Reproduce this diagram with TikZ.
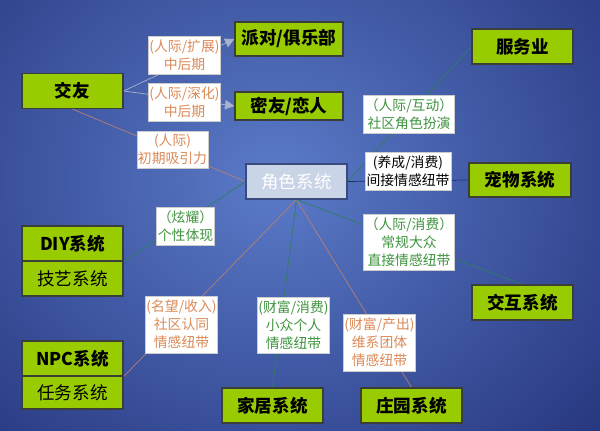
\documentclass[tikz,border=0pt]{standalone}
\usepackage{fontspec}
\setmainfont{Noto Sans CJK SC}
\usetikzlibrary{arrows.meta,backgrounds}

\definecolor{bgin}{HTML}{5B7BC9}
\definecolor{bgout}{HTML}{27377F}
\definecolor{boxgreen}{HTML}{99CC00}
\definecolor{boxline}{HTML}{3A3F3A}
\definecolor{hubfill}{HTML}{C9D4E7}
\definecolor{hubline}{HTML}{3A4A80}
\definecolor{txtorange}{HTML}{DB8A58}
\definecolor{txtgreen}{HTML}{3F943F}
\definecolor{lngreen}{HTML}{2F7E62}
\definecolor{lnorange}{HTML}{B58072}
\definecolor{lnnavy}{HTML}{1E2C6A}
\definecolor{lngray}{HTML}{A9B2CC}

\begin{document}
\begin{tikzpicture}[
                x=0.03cm, y=-0.03cm,
                box/.style={draw=boxline, fill=boxgreen, line width=1pt, inner sep=0pt,
                    minimum width=3.03cm, minimum height=1.05cm,
                    font=\fontsize{15}{18}\selectfont\bfseries},
                hub/.style={draw=hubline, fill=hubfill, text=white, line width=1pt, inner sep=0pt,
                    minimum width=3.03cm, minimum height=1.05cm, font=\fontsize{15}{18}\selectfont},
                lbl/.style={draw=gray!40, fill=white, inner sep=1pt, align=center,
                    minimum width=2.13cm, minimum height=1.14cm, font=\fontsize{11.8}{15.5}\selectfont},
                orng/.style={lbl, text=txtorange},
                grn/.style={lbl, text=txtgreen},
                link/.style={line width=0.6pt},
                arr/.style={link, lngray, -{Triangle[width=8pt,length=8pt]}}
            ]
            % Page area
            \useasboundingbox (0,0) rectangle (600,431);

            % Central system
            \node[hub] (juese) at (296.5,181.5) {角色系统};

            % Boxes round the center
            \node[box] (jiaoyou) at (72.5,91) {交友};
            \node[box, minimum width=3.24cm, minimum height=1.02cm] (paidui) at (289,39) {派对/俱乐部};
            \node[box, minimum width=3.24cm, minimum height=0.84cm] (miyou) at (289,106) {密友/恋人};
            \node[box] (fuwu) at (522.5,46.5) {服务业};
            \node[box, minimum width=3.06cm, minimum height=1.02cm] (chongwu) at (520,180) {宠物系统};
            \node[box] (jiaohu) at (522.5,302.5) {交互系统};
            \node[box] (jiaju) at (272.5,405.5) {家居系统};
            \node[box] (zhuangyuan) at (411.5,405.5) {庄园系统};

            % Stacked boxes on the left
            \node[box] (diy) at (72.5,243.5) {DIY系统};
            \node[box] (jiyi) at (72.5,278.5) {\mdseries 技艺系统};
            \node[box] (npc) at (72.5,358.5) {NPC系统};
            \node[box, minimum height=0.99cm] (renwu) at (72.5,392.5) {\mdseries 任务系统};

            % Labels on the links
            \node[orng] (kuozhan) at (184.5,55) {(人际/扩展)\\中后期};
            \node[orng] (shenhua) at (184.5,102) {(人际/深化)\\中后期};
            \node[orng, minimum height=1.11cm] (xiyin) at (172.5,149.5) {(人际)\\初期吸引力};
            \node[grn, minimum width=1.71cm] (xuanyao) at (185.5,226) {（炫耀）\\个性体现};
            \node[orng, minimum height=1.71cm] (mingwang) at (181.5,324.5) {(名望/收入)\\社区认同\\情感纽带};
            \node[grn, minimum height=1.68cm] (xiaozhong) at (293.5,325) {(财富/消费)\\小众个人\\情感纽带};
            \node[orng, minimum height=1.71cm] (tuanti) at (379.5,342.5) {(财富/产出)\\维系团体\\情感纽带};
            \node[grn, minimum width=2.7cm, minimum height=1.68cm] (dazhong) at (409,242) {（人际/消费）\\常规大众\\直接情感纽带};
            \node[grn, minimum width=2.7cm] (hudong) at (409,114) {（人际/互动）\\社区角色扮演};
            \node[lbl, minimum width=2.58cm] (yangcheng) at (408,171) {(养成/消费)\\间接情感纽带};

            % Background and links go under the nodes
            \begin{scope}[on background layer]
                \shade[inner color=bgin, outer color=bgout] (-160,-200) rectangle (710,560);
                \draw[arr] (jiaoyou.east) -- (paidui.west);
                \draw[arr] (jiaoyou.east) -- (miyou.west);
                \draw[link, lnorange] (jiaoyou.south) -- (juese.west);
                \draw[link, lngreen] (juese.east) -- (fuwu.west);
                \draw[link, lnnavy] (juese.east) -- (chongwu.west);
                \draw[link, lngreen] (juese.south) -- (jiaohu.north);
                \draw[link, lngreen] (juese.south) -- (jiaju.north);
                \draw[link, lnorange] (juese.south) -- (zhuangyuan.north);
                \draw[link, lngreen] (juese.west) -- (diy.south east);
                \draw[link, lnorange] (juese.south) -- (npc.south east);
            \end{scope}

        \end{tikzpicture}
\end{document}
